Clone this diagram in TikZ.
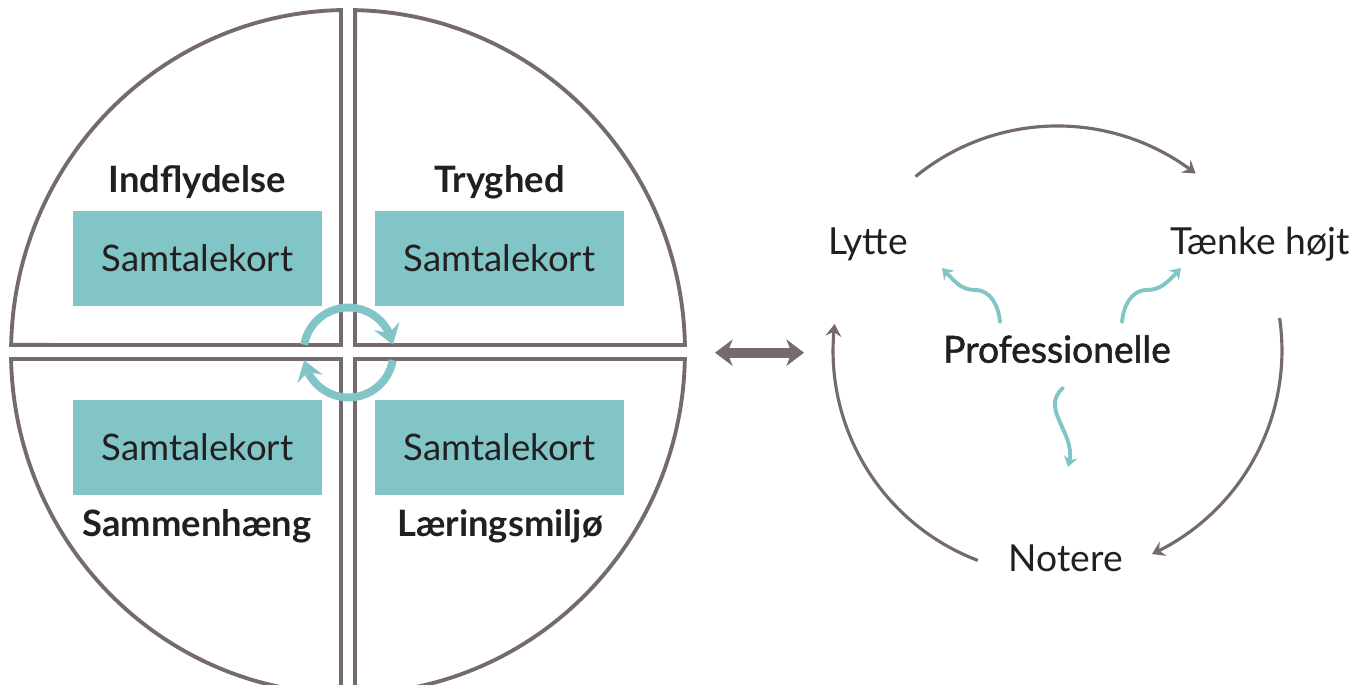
\documentclass[tikz,border=0pt]{standalone}
\usepackage{fontspec}
\setmainfont{Lato}
\newfontfamily\medfont{Lato}[FakeBold=1.4]
\usetikzlibrary{arrows.meta,bending}

\definecolor{rim}{RGB}{118,106,113}
\definecolor{cardteal}{RGB}{130,197,199}
\definecolor{ink}{RGB}{35,31,32}

\begin{document}
\begin{tikzpicture}[x=0.02cm, y=0.02cm,
	quad/.style={draw=rim, line width=2.2pt},
	card/.style={fill=cardteal, minimum width=4.98cm, minimum height=1.9cm, inner sep=0pt, text=ink, font=\fontsize{20.8}{24}\selectfont},
	topic/.style={anchor=base, text=ink, font=\fontsize{20.7}{24}\selectfont\bfseries},
	word/.style={anchor=base, text=ink, font=\fontsize{21.2}{24}\selectfont},
	spin/.style={draw=cardteal, line width=4.5pt, -{Stealth[length=11pt, width=15pt, inset=4pt]}},
	cyclearc/.style={draw=rim, line width=1.8pt, -{Stealth[length=7pt, width=9pt, inset=2.5pt]}},
	sprout/.style={draw=cardteal, line width=2.2pt, line cap=round, -{Stealth[length=6pt, width=8pt, inset=2pt]}},
	twoway/.style={draw=rim, line width=5.6pt, {Stealth[length=10pt, width=15pt, inset=3pt]}-{Stealth[length=10pt, width=15pt, inset=3pt]}}]

	\useasboundingbox (0,0) rectangle (1370,685);

	% the four quarters
	\draw[quad] (341,340) -- (341,674.93) arc[start angle=91.19, end angle=178.83, x radius=6.74cm, y radius=6.84cm] -- cycle;
	\draw[quad] (355,340) -- (684.93,340) arc[start angle=1.17, end angle=88.81, x radius=6.74cm, y radius=6.84cm] -- cycle;
	\draw[quad] (341,326) -- (11.07,326) arc[start angle=181.17, end angle=268.81, x radius=6.74cm, y radius=6.84cm] -- cycle;
	\draw[quad] (355,326) -- (355,-8.93) arc[start angle=271.19, end angle=358.83, x radius=6.74cm, y radius=6.84cm] -- cycle;

	\node[topic] (indfl) at (197,492) {Indflydelse};
	\node[topic] (tryg) at (499.5,492) {Tryghed};
	\node[topic] (samm) at (197,148) {Sammenhæng};
	\node[topic] (laer) at (500,148) {Læringsmiljø};

	\node[card] (sk1) at (197.5,426.5) {Samtalekort};
	\node[card] (sk2) at (499.5,426.5) {Samtalekort};
	\node[card] (sk3) at (197.5,237.5) {Samtalekort};
	\node[card] (sk4) at (499.5,237.5) {Samtalekort};

	% turning arrows in the middle
	\coordinate (r1) at (304.2,340.3);
	\coordinate (r2) at (392.8,324.7);
	\draw[spin] (r1) arc[start angle=170, end angle=10, radius=0.9cm];
	\draw[spin] (r2) arc[start angle=-10, end angle=-170, radius=0.9cm];

	% link between the two parts
	\coordinate (dl) at (715,332.3);
	\coordinate (dr) at (804,332.3);
	\draw[twoway] (dl) -- (dr);

	% the cycle
	\node[word] (lytte) at (868,430) {Lytte};
	\node[word] (taenke) at (1260,430) {Tænke højt};
	\node[word] (notere) at (1066,113) {Notere};
	\node[word, font=\fontsize{21.2}{24}\selectfont\medfont] (prof) at (1057,322.3) {Professionelle};

	\coordinate (c1) at (915.6,508.5);
	\coordinate (c2) at (1279.6,366.9);
	\coordinate (c3) at (977.8,124.6);
	\draw[cyclearc] (c1) arc[start angle=129.2, end angle=52, radius=4.49cm];
	\draw[cyclearc] (c2) arc[start angle=8.3, end angle=-65.1, radius=4.49cm];
	\draw[cyclearc] (c3) arc[start angle=-110.8, end angle=-186.8, radius=4.49cm];

	\coordinate (p1) at (1000,363);
	\coordinate (p2) at (1122,363);
	\coordinate (p3) at (1063,297);
	\coordinate (t1) at (942,417);
	\coordinate (t2) at (1181,417);
	\coordinate (t3) at (1068,218);
	\draw[sprout] (p1) to[out=95, in=0] (975,395) to[out=180, in=-45] (t1);
	\draw[sprout] (p2) to[out=85, in=180] (1147,395) to[out=0, in=225] (t2);
	\draw[sprout] (p3) .. controls (1038,275) and (1080,250) .. (t3);

\end{tikzpicture}
\end{document}
